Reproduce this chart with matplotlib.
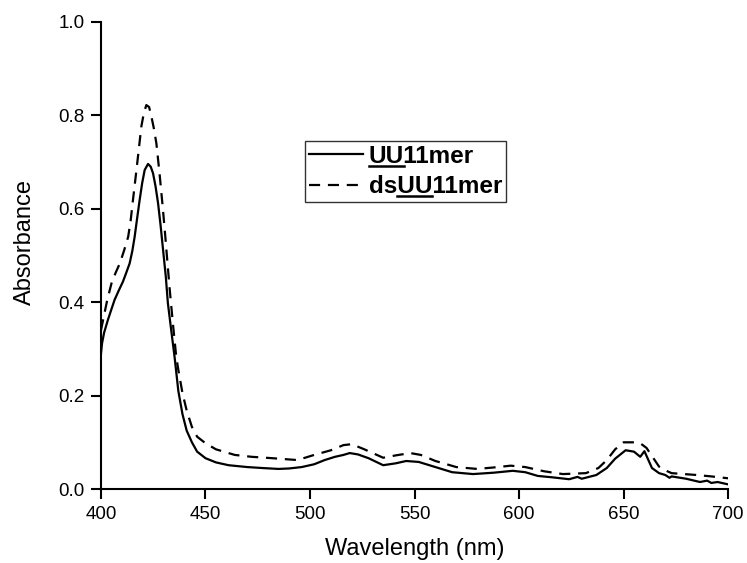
import matplotlib
matplotlib.use("Agg")
import matplotlib.pyplot as plt
from matplotlib.lines import Line2D
import numpy as np

plt.rcParams['font.family'] = ['Liberation Sans', 'DejaVu Sans']

# Solid: UU11mer
wl_ss = [400, 400.5, 401.5, 403.3, 405, 406.5, 408.5, 410.5, 412, 413.7, 415, 416.1, 417.3, 418.5,
         419.7, 420.9, 422.5, 423.8, 424.9, 426.1, 427.3, 428.5, 429.7, 431, 432, 433.6, 435.2,
         437, 439, 441, 443.5, 446, 450, 455, 461, 470, 477, 485, 490, 496,
         502, 507, 512, 516, 519, 523, 528, 535, 541, 546, 552, 560, 568, 578, 588,
         597, 603, 609, 616, 624, 628, 630, 637, 642, 646, 651, 655, 658, 660, 663.6,
         667, 670, 672, 673, 680, 686.6, 690, 692, 695, 698, 700]
abs_ss = [0.29, 0.312, 0.335, 0.362, 0.385, 0.405, 0.425, 0.444, 0.462, 0.483, 0.51, 0.54, 0.58, 0.619,
          0.655, 0.683, 0.696, 0.69, 0.676, 0.648, 0.612, 0.565, 0.512, 0.455, 0.398, 0.34, 0.283,
          0.21, 0.16, 0.125, 0.1, 0.08, 0.066, 0.057, 0.051, 0.047, 0.045, 0.043, 0.044, 0.047,
          0.053, 0.062, 0.069, 0.073, 0.077, 0.074, 0.066, 0.051, 0.055, 0.06, 0.058, 0.047, 0.036, 0.032, 0.035,
          0.039, 0.036, 0.028, 0.025, 0.021, 0.026, 0.022, 0.03, 0.045, 0.065, 0.083, 0.08, 0.069, 0.081, 0.045,
          0.034, 0.03, 0.024, 0.027, 0.022, 0.015, 0.018, 0.013, 0.015, 0.012, 0.01]

# Dashed: dsUU11mer
wl_ds = [400, 401, 403, 405, 407, 409, 411, 413, 414.2, 415.3, 416.5, 417.7, 419.3, 420.5, 421.7,
         423, 424, 425.3, 426.5, 428, 429.3, 430.5, 431.7, 432.9, 434.5, 436,
         437, 439, 441, 443.5, 446, 450, 455, 464, 472, 482, 494, 502, 510,
         516, 520, 526, 535, 541, 548, 553, 560, 570, 580, 590, 596, 603, 612, 621,
         632, 638, 642, 646, 650, 655, 658, 661, 664, 667, 670, 673, 685, 692, 700]
abs_ds = [0.34, 0.362, 0.405, 0.44, 0.463, 0.483, 0.51, 0.54, 0.575, 0.619, 0.665, 0.712, 0.776, 0.805, 0.822,
          0.818, 0.8, 0.772, 0.74, 0.676, 0.615, 0.555, 0.49, 0.426, 0.35, 0.283,
          0.255, 0.205, 0.168, 0.133, 0.112, 0.098, 0.085, 0.073, 0.069, 0.066, 0.062, 0.073, 0.083,
          0.094, 0.096, 0.085, 0.067, 0.072, 0.077, 0.073, 0.06, 0.047, 0.043, 0.047, 0.05, 0.047, 0.038, 0.032,
          0.034, 0.045, 0.062, 0.085, 0.1, 0.1, 0.098, 0.088, 0.068, 0.048, 0.04, 0.034, 0.03, 0.027, 0.023]

labels = ['UU11mer', 'dsUU11mer']
underlined = ['UU', 'UU']
xticks = [400, 450, 500, 550, 600, 650, 700]
yticks = [0.0, 0.2, 0.4, 0.6, 0.8, 1.0]

fig = plt.figure(figsize=(7.47, 5.63), dpi=100)
ax = fig.add_axes([0.1352, 0.1314, 0.8394, 0.8296])
ax.plot(wl_ss, abs_ss, color='black', lw=1.6, label=labels[0])
ax.plot(wl_ds, abs_ds, color='black', lw=1.6, ls=(0, (5, 3.5)), label=labels[1])

ax.set_xlim(400, 700)
ax.set_ylim(0, 1.0)
ax.set_xticks(xticks)
ax.set_yticks(yticks)
ax.set_yticklabels([f'{v:.1f}' for v in yticks])
for s in ['top', 'right']:
    ax.spines[s].set_visible(False)
for s in ['left', 'bottom']:
    ax.spines[s].set_linewidth(1.5)
ax.tick_params(direction='out', length=7, width=1.5, labelsize=13.5, pad=5)
ax.set_xlabel('Wavelength (nm)', fontsize=17, labelpad=11)
ax.set_ylabel('Absorbance', fontsize=17, labelpad=16, y=0.528)

leg = ax.legend(loc='upper left', bbox_to_anchor=(0.3253, 0.745), frameon=True, fancybox=False,
                edgecolor='black', prop={'size': 17.5, 'weight': 'bold'}, handlelength=2.25,
                handletextpad=0.22, borderpad=0.15, labelspacing=0.32, borderaxespad=0)
leg.get_frame().set_linewidth(1.0)

# underline the "UU" part of each legend label
fig.canvas.draw()
renderer = fig.canvas.get_renderer()
for txt, lab, ul in zip(leg.get_texts(), labels, underlined):
    bb = txt.get_window_extent(renderer)
    start = lab.index(ul)
    def width_of(s):
        if not s:
            return 0.0
        t = fig.text(0, 0, s, fontsize=txt.get_fontsize(), fontweight='bold')
        w = t.get_window_extent(renderer).width
        t.remove()
        return w
    x0 = bb.x0 + width_of(lab[:start])
    x1 = bb.x0 + width_of(lab[:start + len(ul)])
    y = bb.y0 + 2.0
    fig.add_artist(Line2D([x0 / fig.bbox.width, x1 / fig.bbox.width],
                          [y / fig.bbox.height, y / fig.bbox.height],
                          color='black', lw=1.8, transform=fig.transFigure))

fig.savefig('out.png', dpi=100)
